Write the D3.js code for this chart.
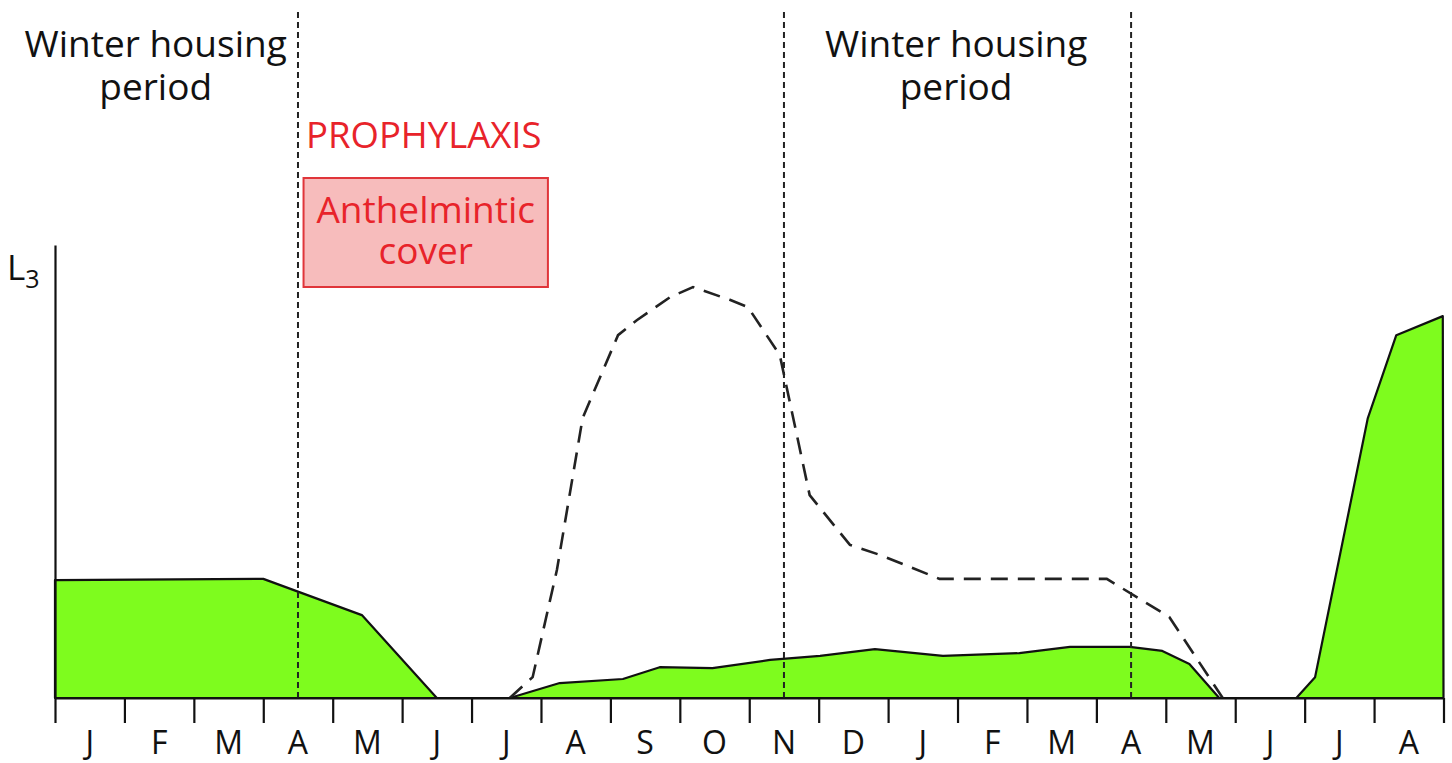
<!DOCTYPE html>
<html>
<head>
<meta charset="utf-8">
<script src="https://cdn.jsdelivr.net/npm/d3@7"></script>
<style>
  html, body { margin: 0; padding: 0; background: #fff; }
  svg { display: block; }
  text { font-family: "Open Sans", "Noto Sans", sans-serif; }
</style>
</head>
<body>
<svg id="chart" width="1452" height="763"></svg>
<script>
// ---- data ----
const monthLabels = ["J","F","M","A","M","J","J","A","S","O","N","D","J","F","M","A","M","J","J","A"];
// pasture L3 larvae (green area): month position, relative level
const pastureMonth = [0, 3.0, 4.42, 5.5, 6.55, 7.27, 8.18, 8.71, 9.47, 10.3, 11.02, 11.81, 12.79, 13.89, 14.62, 15.48, 15.95, 16.34, 16.77, 17.88, 18.15, 18.91, 19.32, 19.99, 20];
const pastureL3   = [26.0, 26.3, 18.3, 0, 0, 3.3, 4.2, 6.8, 6.6, 8.4, 9.3, 10.8, 9.3, 9.9, 11.3, 11.3, 10.4, 7.5, 0, 0, 4.6, 61.8, 80.1, 84.3, 0];
// without prophylaxis (dashed curve)
const noProphMonth = [6.55, 6.88, 7.23, 7.6, 8.11, 8.38, 8.86, 9.19, 9.72, 9.98, 10.44, 10.87, 11.45, 11.88, 12.74, 15.15, 16.05, 16.82];
const noProphL3    = [0, 4.6, 28.3, 61.8, 80.1, 83.4, 88.5, 90.7, 87.9, 86.3, 75.7, 44.8, 33.8, 31.6, 26.3, 26.3, 17.9, 0];
// housing boundaries (month positions)
const housingBounds = [3.5, 10.5, 15.5];
const housingLabels = [["Winter housing", "period"], ["Winter housing", "period"]];
const housingLabelMonth = [1.45, 12.98];
const prophylaxisTitle = "PROPHYLAXIS";
const coverLines = ["Anthelmintic", "cover"];
const coverMonths = [3.58, 7.1];
const yLabel = "L";
const ySub = "3";

// ---- scales ----
const svg = d3.select("#chart");
const x = d3.scaleLinear().domain([0, 20]).range([55, 1443.5]);
const y = d3.scaleLinear().domain([0, 100]).range([698, 245]);

// ---- green area ----
const pasture = pastureMonth.map((m, i) => [m, pastureL3[i]]);
const area = d3.area().x(d => x(d[0])).y0(y(0)).y1(d => y(d[1]));
svg.append("path")
  .datum(pasture)
  .attr("d", area)
  .attr("fill", "#7efc1e")
  .attr("stroke", "#111")
  .attr("stroke-width", 2.2)
  .attr("stroke-linejoin", "round");

// ---- dashed curve ----
const noProph = noProphMonth.map((m, i) => [m, noProphL3[i]]);
svg.append("path")
  .datum(noProph)
  .attr("d", d3.line().x(d => x(d[0])).y(d => y(d[1])))
  .attr("fill", "none")
  .attr("stroke", "#222")
  .attr("stroke-width", 2.6)
  .attr("stroke-dasharray", "17,10");

// ---- housing dotted verticals ----
svg.selectAll("line.bound")
  .data(housingBounds)
  .join("line")
  .attr("class", "bound")
  .attr("x1", d => x(d)).attr("x2", d => x(d))
  .attr("y1", 12).attr("y2", y(0))
  .attr("stroke", "#222")
  .attr("stroke-width", 2)
  .attr("stroke-dasharray", "6,4");

// ---- axes ----
const xAxis = d3.axisBottom(x)
  .tickValues(d3.range(0, 21))
  .tickSize(25)
  .tickSizeOuter(0)
  .tickFormat("");
const gx = svg.append("g").attr("transform", `translate(0,${y(0)})`).call(xAxis);
gx.selectAll("path, line").attr("stroke", "#111").attr("stroke-width", 2.2);

const yAxis = d3.axisLeft(y).tickValues([]).tickSizeOuter(0);
const gy = svg.append("g").attr("transform", `translate(${x(0)},0)`).call(yAxis);
gy.selectAll("path").attr("stroke", "#111").attr("stroke-width", 2.2);

// month labels
svg.selectAll("text.month")
  .data(monthLabels)
  .join("text")
  .attr("class", "month")
  .attr("x", (d, i) => x(i + 0.5))
  .attr("y", 754)
  .attr("text-anchor", "middle")
  .attr("font-size", 32)
  .attr("fill", "#111")
  .text(d => d);

// y label L3
const yl = svg.append("text")
  .attr("x", 7).attr("y", 280)
  .attr("font-size", 35)
  .attr("fill", "#111");
yl.append("tspan").text(yLabel);
yl.append("tspan").attr("font-size", 25).attr("dy", 8).text(ySub);

// housing labels
housingLabels.forEach((lines, k) => {
  lines.forEach((t, j) => {
    svg.append("text")
      .attr("x", x(housingLabelMonth[k]))
      .attr("y", 57 + j * 43)
      .attr("text-anchor", "middle")
      .attr("font-size", 37)
      .attr("fill", "#111")
      .text(t);
  });
});

// prophylaxis
svg.append("text")
  .attr("x", 306).attr("y", 148)
  .attr("font-size", 36.5)
  .attr("fill", "#e8232a")
  .text(prophylaxisTitle);

svg.append("rect")
  .attr("x", x(coverMonths[0])).attr("y", 178)
  .attr("width", x(coverMonths[1]) - x(coverMonths[0])).attr("height", 109)
  .attr("fill", "#f7bcbc")
  .attr("stroke", "#e0353a")
  .attr("stroke-width", 2);

coverLines.forEach((t, j) => {
  svg.append("text")
    .attr("x", (x(coverMonths[0]) + x(coverMonths[1])) / 2)
    .attr("y", 223 + j * 41)
    .attr("text-anchor", "middle")
    .attr("font-size", 37)
    .attr("fill", "#e8232a")
    .text(t);
});
</script>
</body>
</html>
